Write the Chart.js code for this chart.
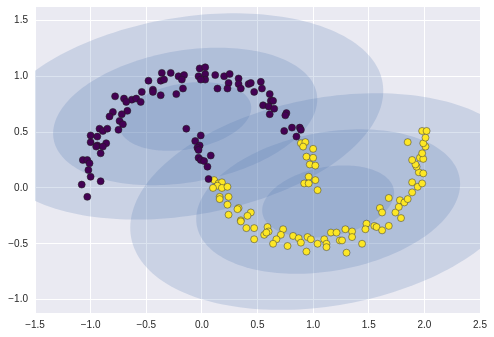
<!DOCTYPE html>
<html lang="en">
<head>
    <meta charset="UTF-8">
    <title>GMM on moons</title>
    <script src="https://cdn.jsdelivr.net/npm/chart.js@4.4.1/dist/chart.umd.min.js"></script>
    <style>
        body { margin: 0; background: #fff; }
        canvas { display: block; }
    </style>
</head>
<body>
<canvas id="gmmChart" width="494" height="337"></canvas>
<script>

    // tick labels
    var xTicks = [-1.5, -1.0, -0.5, 0.0, 0.5, 1.0, 1.5, 2.0, 2.5];
    var yTicks = [-1.0, -0.5, 0.0, 0.5, 1.0, 1.5];

    // points predicted as cluster 0 (purple)
    var cluster0 = [
        [-0.36, 1.03], [-0.28, 1.03], [-0.21, 1.00], [-0.16, 1.01], [-0.18, 0.97],
        [-0.37, 0.96], [-0.34, 0.97], [-0.48, 0.96], [-0.44, 0.88], [-0.44, 0.86],
        [-0.37, 0.83], [-0.23, 0.84], [-0.17, 0.89], [-0.54, 0.86], [-0.78, 0.82],
        [-0.70, 0.80], [-0.63, 0.79], [-0.59, 0.80], [-0.68, 0.77], [-0.55, 0.77],
        [-0.67, 0.69], [-0.80, 0.68], [-0.72, 0.66], [-0.83, 0.64], [-0.74, 0.60],
        [-0.71, 0.57], [-0.75, 0.52], [-0.14, 0.53], [-0.92, 0.53], [-0.89, 0.51],
        [-0.85, 0.53], [-1.00, 0.47], [-0.94, 0.46], [-1.00, 0.41], [-0.86, 0.40],
        [-0.94, 0.38], [-0.95, 0.37], [-0.89, 0.37], [-0.91, 0.31], [-1.07, 0.25],
        [-1.03, 0.25], [-1.01, 0.22], [-1.02, 0.16], [-1.00, 0.10], [-0.91, 0.06],
        [-1.08, 0.03], [-1.03, -0.08], [-0.02, 1.07], [0.03, 1.08], [-0.03, 1.00],
        [0.03, 1.02], [0.03, 0.97], [-0.01, 0.97], [0.12, 1.01], [0.20, 1.00],
        [0.25, 1.02], [0.33, 0.98], [0.24, 0.94], [0.33, 0.93], [0.35, 0.89],
        [0.23, 0.89], [0.14, 0.89], [0.42, 0.93], [0.44, 0.94], [0.53, 0.95],
        [0.54, 0.89], [0.47, 0.86], [0.61, 0.84], [0.62, 0.78], [0.64, 0.78],
        [0.55, 0.74], [0.60, 0.73], [0.65, 0.71], [0.61, 0.66], [0.76, 0.67],
        [0.75, 0.65], [0.81, 0.54], [0.88, 0.54], [0.89, 0.52], [0.74, 0.51],
        [0.85, 0.46], [-0.01, 0.47], [-0.06, 0.42], [-0.02, 0.38], [-0.04, 0.36],
        [-0.03, 0.34], [0.08, 0.29], [-0.03, 0.27], [-0.01, 0.25], [0.02, 0.24],
        [0.05, 0.19], [0.06, 0.08]
    ];

    // points predicted as cluster 1 (yellow)
    var cluster1 = [
        [0.11, 0.07], [0.15, 0.04], [0.18, 0.05], [0.14, 0.02], [0.10, 0.00],
        [0.18, 0.00], [0.23, 0.01], [0.16, -0.08], [0.24, -0.08], [0.16, -0.10],
        [0.23, -0.15], [0.33, -0.18], [0.32, -0.19], [0.24, -0.24], [0.44, -0.22],
        [0.41, -0.25], [0.35, -0.29], [0.35, -0.30], [0.40, -0.36], [0.47, -0.36],
        [0.59, -0.35], [0.60, -0.39], [0.56, -0.42], [0.58, -0.40], [0.47, -0.46],
        [0.73, -0.37], [0.71, -0.42], [0.67, -0.46], [0.64, -0.50], [0.77, -0.52],
        [0.82, -0.43], [0.87, -0.45], [0.89, -0.49], [0.95, -0.44], [0.98, -0.46],
        [1.04, -0.50], [0.94, -0.57], [0.89, 0.40], [0.93, 0.41], [0.91, 0.37],
        [1.00, 0.35], [0.94, 0.28], [1.00, 0.27], [0.97, 0.21], [1.02, 0.20],
        [0.96, 0.10], [1.02, 0.07], [0.92, 0.04], [0.96, 0.04], [1.04, -0.02],
        [1.10, -0.46], [1.12, -0.50], [1.12, -0.53], [1.16, -0.40], [1.21, -0.40],
        [1.24, -0.47], [1.26, -0.47], [1.29, -0.37], [1.30, -0.58], [1.35, -0.39],
        [1.35, -0.44], [1.44, -0.50], [1.48, -0.32], [1.47, -0.37], [1.55, -0.34],
        [1.57, -0.35], [1.62, -0.38], [1.68, -0.34], [1.60, -0.18], [1.62, -0.22],
        [1.68, -0.09], [1.74, -0.22], [1.77, -0.17], [1.79, -0.27], [1.78, -0.11],
        [1.82, -0.13], [1.85, -0.10], [1.89, -0.04], [1.89, 0.05], [1.94, 0.01],
        [1.98, 0.04], [1.95, 0.14], [1.99, 0.13], [1.93, 0.19], [1.92, 0.21],
        [1.89, 0.25], [1.96, 0.27], [1.99, 0.26], [1.98, 0.31], [2.01, 0.37],
        [1.99, 0.40], [1.85, 0.41], [2.01, 0.45], [1.98, 0.51], [2.02, 0.51]
    ];

    // fitted mixture components: means, 1-sigma semi axes, rotation (deg), weights
    var gmmMeans = [[-0.15, 0.64], [1.135, -0.122]];
    var gmmAxes = [[0.60, 0.295], [0.60, 0.31]];
    var gmmAngles = [9.7, 10.3];
    var gmmWeights = [0.5, 0.5];

    var toPoints = function (arr) {
        return arr.map(function (p) { return {x: p[0], y: p[1]}; });
    };
    var fmt = function (v) {
        return v.toFixed(1).replace('-', '\u2212');
    };

    var backgroundPlugin = {
        id: 'background',
        beforeDraw: function (chart) {
            var ctx = chart.ctx, a = chart.chartArea;
            ctx.save();
            ctx.fillStyle = '#ffffff';
            ctx.fillRect(0, 0, chart.width, chart.height);
            ctx.fillStyle = '#EAEAF2';
            ctx.fillRect(a.left, a.top, a.right - a.left, a.bottom - a.top);
            ctx.restore();
        }
    };

    var ellipsePlugin = {
        id: 'gmmEllipses',
        beforeDatasetsDraw: function (chart) {
            var ctx = chart.ctx, a = chart.chartArea;
            var xs = chart.scales.x, ys = chart.scales.y;
            var wMax = Math.max.apply(null, gmmWeights);
            ctx.save();
            ctx.beginPath();
            ctx.rect(a.left, a.top, a.right - a.left, a.bottom - a.top);
            ctx.clip();
            for (var k = 0; k < gmmMeans.length; k++) {
                var th = gmmAngles[k] * Math.PI / 180;
                var c = Math.cos(th), s = Math.sin(th);
                ctx.fillStyle = 'rgba(76, 114, 176, ' + (0.2 * gmmWeights[k] / wMax) + ')';
                for (var nsig = 1; nsig < 4; nsig++) {
                    ctx.beginPath();
                    for (var t = 0; t <= 360; t += 2) {
                        var r = t * Math.PI / 180;
                        var u = nsig * gmmAxes[k][0] * Math.cos(r);
                        var v = nsig * gmmAxes[k][1] * Math.sin(r);
                        var px = xs.getPixelForValue(gmmMeans[k][0] + u * c - v * s);
                        var py = ys.getPixelForValue(gmmMeans[k][1] + u * s + v * c);
                        if (t === 0) ctx.moveTo(px, py); else ctx.lineTo(px, py);
                    }
                    ctx.closePath();
                    ctx.fill();
                }
            }
            ctx.restore();
        }
    };

    var tickFont = {family: '"Liberation Sans", Arial, sans-serif', size: 10};

    var config = {
        type: 'scatter',
        data: {
            datasets: [{
                label: 'cluster 0',
                data: toPoints(cluster0),
                backgroundColor: '#440154',
                borderColor: 'rgba(30, 30, 30, 0.8)',
                borderWidth: 0.7,
                pointRadius: 3.5
            }, {
                label: 'cluster 1',
                data: toPoints(cluster1),
                backgroundColor: '#FDE725',
                borderColor: 'rgba(60, 60, 60, 0.75)',
                borderWidth: 0.7,
                pointRadius: 3.5
            }]
        },
        options: {
            responsive: false,
            animation: false,
            devicePixelRatio: 1,
            layout: {padding: {left: 0, right: 14, top: 7, bottom: 0}},
            plugins: {
                legend: {display: false},
                tooltip: {enabled: false}
            },
            scales: {
                x: {
                    type: 'linear',
                    min: -1.5,
                    max: 2.5,
                    afterFit: function (s) {
                        s.height = 24;
                        s.paddingLeft = 0;
                        s.paddingRight = 0;
                    },
                    afterBuildTicks: function (s) {
                        s.ticks = xTicks.map(function (v) { return {value: v}; });
                    },
                    grid: {color: '#ffffff', lineWidth: 1, drawTicks: false},
                    border: {display: false},
                    ticks: {
                        font: tickFont,
                        color: '#262626',
                        padding: 6,
                        maxRotation: 0,
                        callback: function (v) { return fmt(v); }
                    }
                },
                y: {
                    type: 'linear',
                    min: -1.12,
                    max: 1.62,
                    afterFit: function (s) {
                        s.width = 35;
                        s.paddingTop = 0;
                        s.paddingBottom = 0;
                    },
                    afterBuildTicks: function (s) {
                        s.ticks = yTicks.map(function (v) { return {value: v}; });
                    },
                    grid: {color: '#ffffff', lineWidth: 1, drawTicks: false},
                    border: {display: false},
                    ticks: {
                        font: tickFont,
                        color: '#262626',
                        padding: 7,
                        callback: function (v) { return fmt(v); }
                    }
                }
            }
        },
        plugins: [backgroundPlugin, ellipsePlugin]
    };

    window.onload = function () {
        var ctx = document.getElementById('gmmChart').getContext('2d');
        window.gmmChart = new Chart(ctx, config);
    };

</script>
</body>
</html>
